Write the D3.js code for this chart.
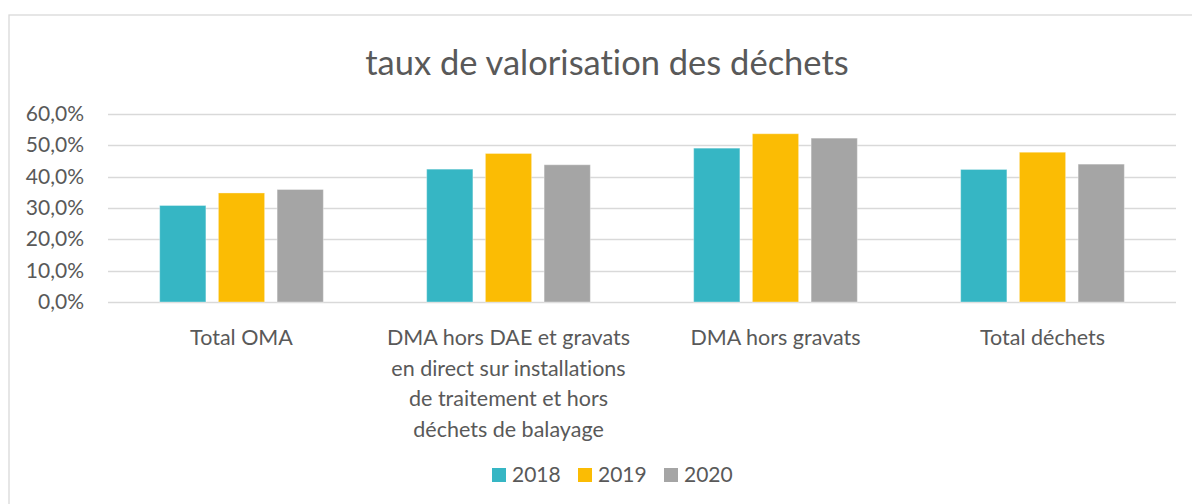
<!DOCTYPE html>
<html>
<head>
<meta charset="utf-8">
<script src="https://cdn.jsdelivr.net/npm/d3@7"></script>
<style>
  body { margin: 0; background: #fff; }
  text { font-family: Lato, "Open Sans", sans-serif; fill: #595959; font-variant-ligatures: none; font-feature-settings: "liga" 0; }
</style>
</head>
<body>
<div class="chart"></div>
<script>
// categories (tick labels, already wrapped like the original)
var categories = [
  "Total OMA",
  "DMA hors DAE et gravats\nen direct sur installations\nde traitement et hors\ndéchets de balayage",
  "DMA hors gravats",
  "Total déchets"
];
var years = ["2018", "2019", "2020"];
// values per year, in %
var v2018 = [30.8, 42.4, 49.1, 42.3];
var v2019 = [34.8, 47.4, 53.7, 47.8];
var v2020 = [35.9, 43.8, 52.3, 44.0];
var yTicks = [0, 10, 20, 30, 40, 50, 60];
var colors = ["#36B6C4", "#FBBC04", "#A5A5A5"];

var width = 1192, height = 504;
var series = [v2018, v2019, v2020];

var svg = d3.select(".chart").append("svg")
    .attr("width", width)
    .attr("height", height);

// chart frame
svg.append("rect")
    .attr("x", 9).attr("y", 15)
    .attr("width", 1200).attr("height", 520)
    .attr("fill", "#fff")
    .attr("stroke", "#d9d9d9")
    .attr("stroke-width", 1.3);

// title
svg.append("text")
    .attr("x", 607).attr("y", 75)
    .attr("text-anchor", "middle")
    .style("font-size", "34.5px")
    .text("taux de valorisation des déchets");

var x0 = d3.scaleBand()
    .domain(categories)
    .range([108, 1176]);

var x1 = d3.scaleBand()
    .domain(years)
    .range([0, x0.bandwidth()])
    .paddingInner(0.213)
    .paddingOuter(0.88);

var y = d3.scaleLinear()
    .domain([0, 60])
    .range([302, 114]);

// gridlines
svg.append("g").selectAll("line")
    .data(yTicks)
  .enter().append("line")
    .attr("x1", 108).attr("x2", 1176)
    .attr("y1", function(d) { return Math.round(y(d)) + 0.5; })
    .attr("y2", function(d) { return Math.round(y(d)) + 0.5; })
    .attr("stroke", "#d9d9d9")
    .attr("stroke-width", 1.4);

// y labels
var fmt = function(d) { return d3.format(".1f")(d).replace(".", ",") + "%"; };
svg.append("g").selectAll("text")
    .data(yTicks)
  .enter().append("text")
    .attr("x", 84)
    .attr("y", function(d) { return y(d) + 7; })
    .attr("text-anchor", "end")
    .style("font-size", "21px")
    .text(fmt);

// bars
var groups = svg.append("g").selectAll("g")
    .data(categories)
  .enter().append("g")
    .attr("transform", function(d) { return "translate(" + x0(d) + ",0)"; });

groups.selectAll("rect")
    .data(function(d, i) {
      return years.map(function(yr, j) { return { year: yr, value: series[j][i], j: j }; });
    })
  .enter().append("rect")
    .attr("x", function(d) { return x1(d.year); })
    .attr("width", x1.bandwidth())
    .attr("y", function(d) { return y(d.value); })
    .attr("height", function(d) { return y(0) - y(d.value); })
    .attr("fill", function(d) { return colors[d.j]; })
    .attr("stroke", "#fff")
    .attr("stroke-opacity", 0.35)
    .attr("stroke-width", 1);

// category labels
var catLabels = svg.append("g").selectAll("text")
    .data(categories)
  .enter().append("text")
    .attr("x", function(d) { return x0(d) + x0.bandwidth() / 2; })
    .attr("y", 345)
    .attr("text-anchor", "middle")
    .style("font-size", "21.5px");

catLabels.selectAll("tspan")
    .data(function(d) { return d.split("\n"); })
  .enter().append("tspan")
    .attr("x", function() { var p = this.parentNode; return p.getAttribute("x"); })
    .attr("dy", function(d, i) { return i === 0 ? 0 : 30.5; })
    .text(function(d) { return d; });

// legend
var legendX = [492, 578, 664];
var legend = svg.append("g").selectAll("g")
    .data(years)
  .enter().append("g")
    .attr("transform", function(d, i) { return "translate(" + legendX[i] + ",468)"; });

legend.append("rect")
    .attr("width", 14).attr("height", 14)
    .attr("fill", function(d, i) { return colors[i]; });

legend.append("text")
    .attr("x", 20).attr("y", 14)
    .style("font-size", "21px")
    .text(function(d) { return d; });
</script>
</body>
</html>
